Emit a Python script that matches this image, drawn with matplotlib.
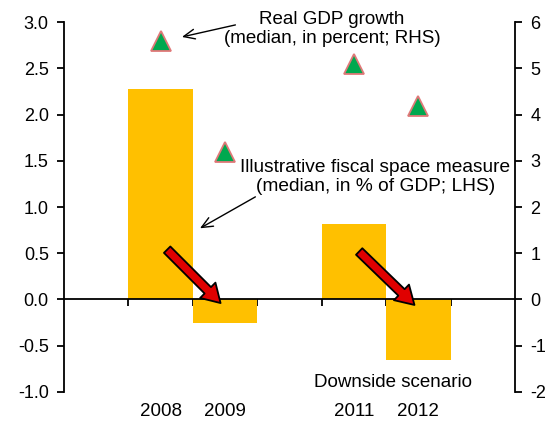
import numpy as np
import matplotlib
matplotlib.use('Agg')
import matplotlib.pyplot as plt
from matplotlib.patches import FancyArrowPatch
from matplotlib.transforms import blended_transform_factory

plt.rcParams['font.family'] = ['Liberation Sans', 'DejaVu Sans']
plt.rcParams['axes.unicode_minus'] = False

# data
years = ['2008', '2009', '2011', '2012']
slots = [1, 2, 4, 5]          # slot 3 is the gap between the two pairs
fiscal_space = [2.28, -0.25, 0.82, -0.65]   # % of GDP, LHS
gdp_growth = [5.6, 3.2, 5.1, 4.18]           # percent, RHS

fig = plt.figure(figsize=(5.52, 4.26), dpi=100)
ax = fig.add_axes([0.116, 0.08, 0.817, 0.868])
ax2 = ax.twinx()

ax.bar(slots, fiscal_space, width=1.0, color='#FFC000', zorder=2)
ax2.plot(slots, gdp_growth, linestyle='none', marker='^', markersize=14,
         markerfacecolor='#00A84F', markeredgecolor='#E07878', markeredgewidth=1.3, zorder=5)

ax.set_xlim(-0.5, 6.5)
ax.set_ylim(-1.0, 3.0)
ax2.set_ylim(-2, 6)
ax.set_yticks(np.arange(-1.0, 3.01, 0.5))
ax.set_yticklabels(['%.1f' % v for v in np.arange(-1.0, 3.01, 0.5)])
ax2.set_yticks(range(-2, 7))

# spines
for a in (ax, ax2):
    a.spines['top'].set_visible(False)
for s in ['left', 'right', 'bottom']:
    ax.spines[s].set_linewidth(1.3)
    ax2.spines[s].set_linewidth(1.3)
ax.spines['bottom'].set_position(('data', 0))
ax2.spines['bottom'].set_visible(False)
ax.spines['right'].set_visible(False)
ax2.spines['left'].set_visible(False)

ax.set_xticks([0.5, 1.5, 2.5, 3.5, 4.5, 5.5])
ax.set_xticklabels([])
ax.tick_params(axis='x', direction='out', length=5, width=1.3)
ax.tick_params(axis='y', direction='out', length=5, width=1.3, labelsize=13, pad=6)
ax2.tick_params(axis='y', direction='out', length=5, width=1.3, labelsize=13, pad=6)

trans = blended_transform_factory(ax.transData, ax.transAxes)
for s, y in zip(slots, years):
    ax.text(s, -0.052, y, transform=trans, ha='center', va='center', fontsize=13.5)

# red arrows
for x0, y0, x1, y1 in [(1.07, 0.56, 1.96, -0.06), (4.05, 0.54, 4.97, -0.08)]:
    arr = FancyArrowPatch((x0, y0), (x1, y1),
                          arrowstyle='simple,head_length=1.0,head_width=1.2,tail_width=0.5',
                          mutation_scale=13, facecolor='#E00000', edgecolor='black',
                          linewidth=1.3, zorder=6)
    ax.add_patch(arr)

# annotations
thin = dict(arrowstyle='->,head_length=0.8,head_width=0.35', color='black',
            lw=1.0, shrinkA=0, shrinkB=0)
ax.text(3.66, 2.93, 'Real GDP growth\n(median, in percent; RHS)', ha='center', va='center',
        fontsize=13.5, linespacing=1.15, zorder=7)
ax.annotate('', xy=(1.33, 2.84), xytext=(2.16, 2.97), arrowprops=thin, zorder=7)
ax.text(4.33, 1.33, 'Illustrative fiscal space measure\n(median, in % of GDP; LHS)',
        ha='center', va='center', fontsize=13.8, linespacing=1.15, zorder=7)
ax.annotate('', xy=(1.61, 0.77), xytext=(2.47, 1.11), arrowprops=thin, zorder=7)
ax.text(4.61, -0.9, 'Downside scenario', ha='center', va='center', fontsize=13.5)

fig.savefig('out.png', dpi=100)
